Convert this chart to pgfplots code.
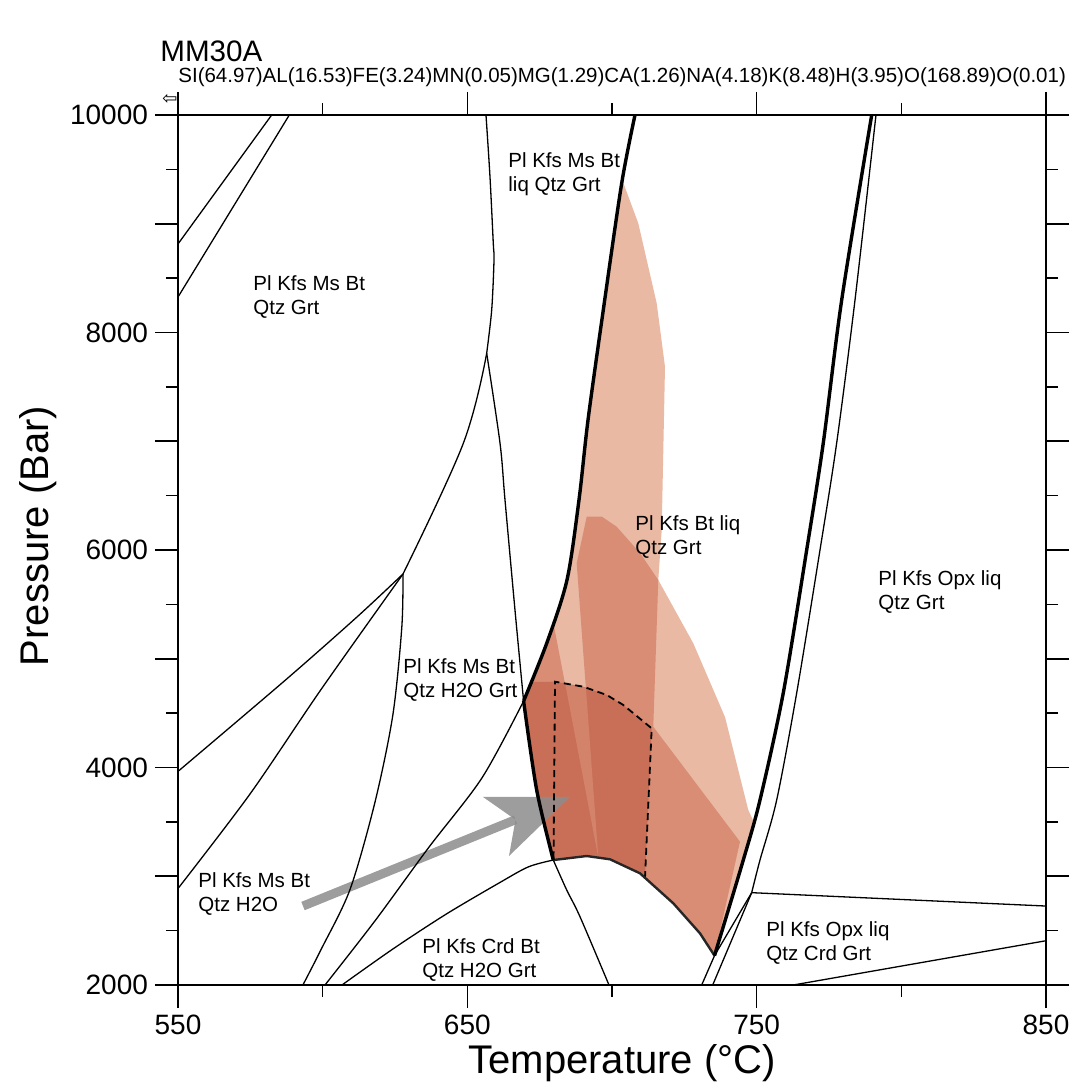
\documentclass[border=0pt]{standalone}
\usepackage{pgfplots}
\pgfplotsset{compat=1.18}
\usepackage{fontspec}
\setmainfont{Liberation Sans}
\newfontfamily\symfont{DejaVu Sans}
\definecolor{lightfill}{RGB}{234,185,163}
\definecolor{medfill}{RGB}{216,141,116}
\definecolor{darkfill}{RGB}{202,111,87}
\definecolor{sliverfill}{RGB}{212,131,107}
\newcommand\lab{\fontsize{10.25}{12.25}\selectfont}
\begin{document}
\begin{tikzpicture}
\path[use as bounding box] (-89pt,-51.5pt) rectangle (447.5pt,492.5pt);
\begin{axis}[
  at={(0,0)}, anchor=south west,
  scale only axis, width=434pt, height=435pt,
  xmin=550, xmax=850, ymin=2000, ymax=10000,
  scaled x ticks=false, scaled y ticks=false,
  xtick={550,650,750,850}, xticklabels={550,650,750,850},
  minor xtick={600,700,800},
  ytick={2000,3000,...,10000}, yticklabels={2000,,4000,,6000,,8000,,10000},
  minor ytick={2500,3500,...,9500},
  tick align=outside,
  major tick length=11.5pt, minor tick length=6pt,
  tick style={black, line width=0.8pt},
  axis line style={line width=0.9pt},
  ticklabel style={font=\fontsize{14}{16}\selectfont},
  no markers,
  thinline/.style={black, line width=0.65pt},
  thickline/.style={black, line width=1.7pt},
]
% ---- shaded fields ----
\addplot[fill=lightfill, draw=none] coordinates {(703.8,9384) (709.09,9004) (715.45,8269) (718.32,7685) (717.18,6184) (716.00,5724) (728.10,5142) (739.06,4464) (747.11,3609) (749.04,3499) (745.38,3149) (735.43,2270) (730.41,2475) (721.19,2751) (709.68,3027) (699.31,3156) (691.26,3186) (679.71,3149) (673.97,3793) (669.45,4611) (677.43,5142) (684.44,5724) (688.59,6460) (691.71,7195) (696.99,8207) (703.35,9372)};
\addplot[fill=medfill, draw=none] coordinates {(691.26,6306) (696.54,6306) (701.62,6214) (709.68,5972) (716.00,5724) (714.27,4375) (744.24,3318) (735.43,2270) (730.41,2475) (721.19,2751) (709.68,3027) (699.31,3156) (695.26,3175) (687.80,5878)};
\addplot[fill=medfill, draw=none] coordinates {(679.75,5329) (695.26,3175) (691.26,3186) (679.71,3149) (673.97,3793) (669.45,4611) (677.43,5142)};
\addplot[fill=darkfill, draw=none] coordinates {(672.08,4786) (680.30,4789) (690.08,4743) (698.17,4667) (703.91,4575) (713.72,4360) (711.41,2986) (709.68,3027) (699.31,3156) (691.26,3186) (679.71,3149) (673.97,3793) (669.45,4611)};
\addplot[fill=sliverfill, draw=none] coordinates {(683.83,4768) (690.98,4731) (695.26,3175)};
% ---- arrow ----
\addplot[line width=4.5pt, draw=black!45, opacity=0.85] coordinates {(593.20,2726) (666.65,3520)};
\addplot[fill=black!45, draw=none, opacity=0.85] coordinates {(685.48,3729) (655.41,3729) (666.65,3520) (664.40,3186)};
% ---- thin boundaries ----
\addplot[thinline] coordinates {(550,8814) (582.38,10000)};
\addplot[thinline] coordinates {(550,8326) (588.47,10000)};
\addplot[thinline, smooth, tension=0.5] coordinates {(656.45,10000) (657.83,9432) (658.97,8820) (659.22,8666) (658.42,8207) (656.69,7809)};
\addplot[thinline, smooth, tension=0.5] coordinates {(656.69,7809) (661.29,6984) (663.02,6460) (666.47,5448) (669.45,4611)};
\addplot[thinline, smooth, tension=0.6] coordinates {(656.69,7809) (648.61,6981) (627.76,5779)};
\addplot[thinline, smooth, tension=0.5] coordinates {(627.76,5779) (627.35,5288) (624.27,4485) (618.09,3682) (609.45,2878) (599.56,2332) (593.17,2000)};
\addplot[thinline, smooth, tension=0.5] coordinates {(550,3964) (587.22,4806) (611.90,5385) (627.76,5779)};
\addplot[thinline, smooth, tension=0.5] coordinates {(550,2887) (574.88,3756) (599.56,4722) (627.76,5779)};
\addplot[thinline, smooth, tension=0.5] coordinates {(600.81,2000) (618.09,2590) (636.61,3263) (655.10,3906) (669.45,4611)};
\addplot[thinline, smooth, tension=0.5] coordinates {(606.68,2000) (624.27,2331) (642.77,2653) (661.29,2943) (671.17,3087) (679.71,3149)};
\addplot[thinline, smooth, tension=0.5] coordinates {(679.71,3149) (684.34,2874) (688.94,2628) (698.96,2000)};
\addplot[thinline, smooth, tension=0.5] coordinates {(791.24,10000) (783.99,8299) (777.66,6985) (771.89,6000) (763.84,4686) (756.92,3701) (751.15,3149) (748.28,2849)};
\addplot[thinline] coordinates {(748.28,2849) (734.81,2000)};
\addplot[thinline] coordinates {(731.00,2000) (735.43,2270) (748.28,2849)};
\addplot[thinline] coordinates {(748.28,2849) (850,2726)};
\addplot[thinline] coordinates {(762.66,2000) (850,2407)};
% ---- dashed field ----
\addplot[black, line width=0.9pt, dash pattern=on 3.5pt off 2.3pt] coordinates {(679.8,3165) (680.30,4789) (690.08,4743) (698.17,4667) (703.91,4575) (713.72,4360) (711.41,2986)};
% ---- bold boundaries ----
\addplot[black!85, line width=1.2pt] coordinates {(679.71,3149) (691.26,3186) (699.31,3156) (709.68,3027) (721.19,2751) (730.41,2475) (735.43,2270)};
\addplot[thickline, smooth, tension=0.5] coordinates {(707.95,10000) (703.35,9372) (696.99,8207) (691.71,7195) (688.59,6460) (684.44,5724) (677.43,5142) (669.45,4611)};
\addplot[thickline, smooth, tension=0.5] coordinates {(669.45,4611) (673.97,3793) (679.71,3149)};
\addplot[thickline, smooth, tension=0.5] coordinates {(789.76,10000) (779.39,8299) (773.03,6985) (767.29,6000) (759.20,4686) (751.15,3701) (745.38,3149) (735.43,2270)};
% ---- field labels ----
\node[anchor=west, align=left, inner sep=0pt, font=\lab] at (axis cs:575.92,8326) {Pl Kfs Ms Bt\\Qtz Grt};
\node[anchor=west, align=left, inner sep=0pt, font=\lab] at (axis cs:664.06,9457) {Pl Kfs Ms Bt\\liq Qtz Grt};
\node[anchor=west, align=left, inner sep=0pt, font=\lab] at (axis cs:707.95,6120) {Pl Kfs Bt liq\\Qtz Grt};
\node[anchor=west, align=left, inner sep=0pt, font=\lab] at (axis cs:791.94,5614) {Pl Kfs Opx liq\\Qtz Grt};
\node[anchor=west, align=left, inner sep=0pt, font=\lab] at (axis cs:627.76,4805) {Pl Kfs Ms Bt\\Qtz H2O Grt};
\node[anchor=west, align=left, inner sep=0pt, font=\lab] at (axis cs:556.91,2837) {Pl Kfs Ms Bt\\Qtz H2O};
\node[anchor=west, align=left, inner sep=0pt, font=\lab] at (axis cs:634.33,2230) {Pl Kfs Crd Bt\\Qtz H2O Grt};
\node[anchor=west, align=left, inner sep=0pt, font=\lab] at (axis cs:753.23,2386) {Pl Kfs Opx liq\\Qtz Crd Grt};
\end{axis}
\node[anchor=west, inner sep=0pt, font=\fontsize{14.8}{17}\selectfont] at (-9pt,467pt) {MM30A};
\node[anchor=west, inner sep=0pt, font=\lab] at (0pt,454pt) {SI(64.97)AL(16.53)FE(3.24)MN(0.05)MG(1.29)CA(1.26)NA(4.18)K(8.48)H(3.95)O(168.89)O(0.01)};
\node[inner sep=0pt, font=\fontsize{20}{24}\selectfont] at (222pt,-39pt) {Temperature (°C)};
\node[inner sep=0pt, rotate=90, font=\fontsize{20}{24}\selectfont] at (-70pt,224.5pt) {Pressure (Bar)};
\node[inner sep=0pt, font=\symfont\fontsize{9}{9}\selectfont] at (-4pt,443pt) {⇦};
\end{tikzpicture}
\end{document}
